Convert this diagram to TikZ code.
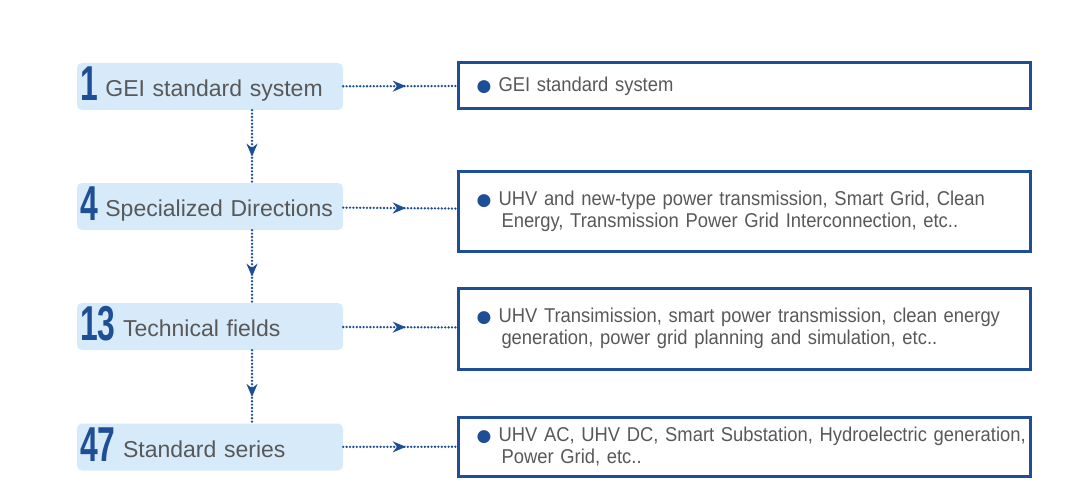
\documentclass[tikz,border=0pt]{standalone}
\usepackage{graphicx}
\usepackage{fontspec}
\setmainfont{Liberation Sans}
\newfontfamily\infofont[FakeStretch=0.92]{Liberation Sans}
\newfontfamily\symfont{DejaVu Sans}
\usetikzlibrary{arrows.meta,decorations.markings}

\definecolor{geiblue}{RGB}{30,78,150}
\definecolor{geilight}{RGB}{214,234,249}
\definecolor{geigrey}{RGB}{88,88,88}

\tikzset{
  level/.style={fill=geilight, rounded corners=5pt, minimum width=266pt, minimum height=47pt,
    text width=260pt, inner xsep=3pt, text height=28pt, text depth=8pt, align=left,
    text=geigrey, font=\fontsize{23}{27}\selectfont},
  info/.style={draw=geiblue, line width=3pt, minimum width=572pt, text width=540pt,
    inner xsep=16pt, align=left, text=geigrey, font=\infofont\fontsize{20}{22}\selectfont},
  link/.style={geiblue, line width=2.6pt, line cap=round, dash pattern=on 0pt off 3.4pt,
    postaction={decorate},
    decoration={markings, mark=at position #1 with {\arrow[solid]{Stealth[length=13pt,width=11pt]}}}},
  link/.default=0.55
}
\newcommand{\bignum}[1]{\raisebox{-4pt}{\textcolor{geiblue}{\fontsize{49}{49}\selectfont\bfseries\scalebox{0.65}[1]{#1}}}}
\newcommand{\bul}{\makebox[24pt][l]{\hspace{2pt}\textcolor{geiblue}{\symfont\fontsize{17}{17}\selectfont ●}}}

\begin{document}
\begin{tikzpicture}[x=1pt, y=-1pt]
  \useasboundingbox (0,0) rectangle (1080,495);

  % left column
  \node[level] (l1) at (210,86.5) {\bignum{1} GEI standard system};
  \node[level] (l2) at (210,206.5) {\bignum{4} Specialized Directions};
  \node[level] (l3) at (210,326.5) {\bignum{13} Technical fields};
  \node[level] (l4) at (210,447) {\bignum{47} Standard series};

  % right column
  \node[info, minimum height=46pt, text height=14pt, text depth=1pt] (r1) at (744.5,85.5)
    {\bul GEI standard system};
  \node[info, minimum height=80pt] (r2) at (744.5,211)
    {\mbox{\bul UHV and new-type power transmission, Smart Grid, Clean}\\
     \mbox{\hspace*{27pt}Energy, Transmission Power Grid Interconnection, etc..}};
  \node[info, minimum height=81pt] (r3) at (744.5,328.5)
    {\mbox{\bul UHV Transimission, smart power transmission, clean energy}\\
     \mbox{\hspace*{27pt}generation, power grid planning and simulation, etc..}};
  \node[info, minimum height=59pt] (r4) at (744.5,446.5)
    {\mbox{\bul UHV AC, UHV DC, Smart Substation, Hydroelectric generation,}\\
     \mbox{\hspace*{27pt}Power Grid, etc..}};

  \foreach \i in {1,2,3,4}{\draw[link] (l\i) -- (r\i);}

  \foreach \i/\j in {1/2,2/3,3/4}{
    \draw[link=0.64] ([xshift=42pt]l\i.south) -- ([xshift=42pt]l\j.north);}
\end{tikzpicture}
\end{document}
